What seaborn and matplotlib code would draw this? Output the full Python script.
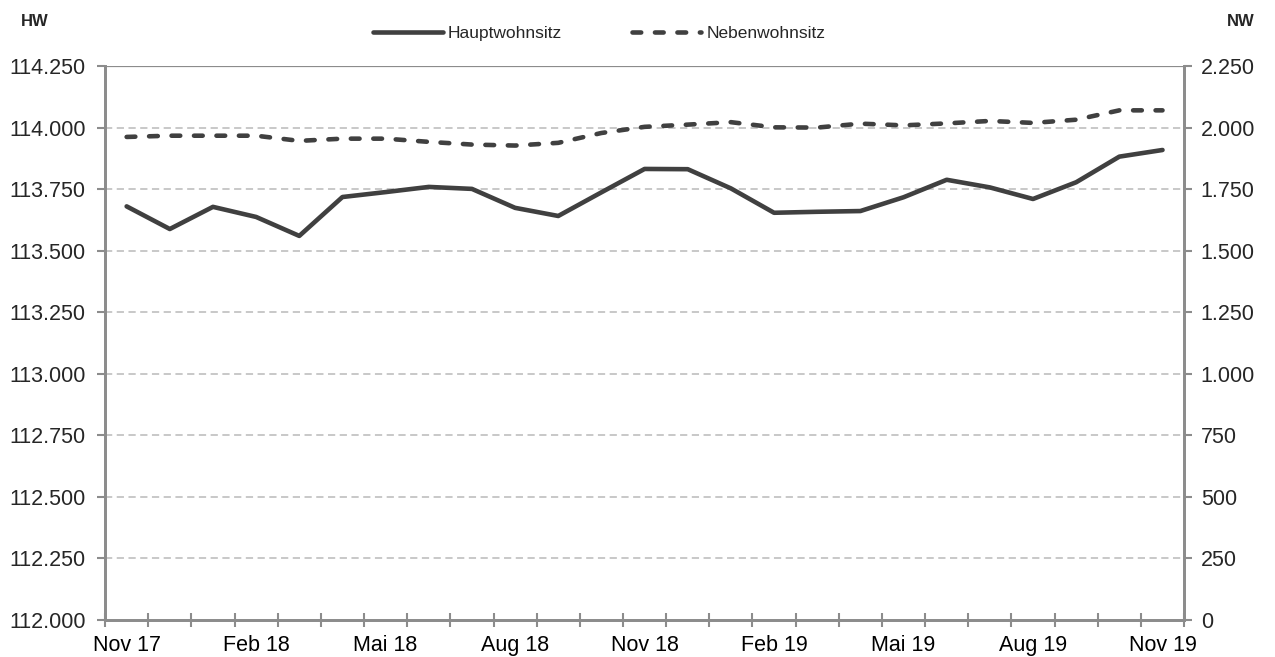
import matplotlib
matplotlib.use("Agg")
import matplotlib.pyplot as plt
import seaborn as sns
import pandas as pd

# monthly values Nov 17 - Nov 19
months = ["Nov 17", "Dez 17", "Jan 18", "Feb 18", "Mrz 18", "Apr 18", "Mai 18",
          "Jun 18", "Jul 18", "Aug 18", "Sep 18", "Okt 18", "Nov 18", "Dez 18",
          "Jan 19", "Feb 19", "Mrz 19", "Apr 19", "Mai 19", "Jun 19", "Jul 19",
          "Aug 19", "Sep 19", "Okt 19", "Nov 19"]
hauptwohnsitz = [113.680, 113.588, 113.678, 113.637, 113.560, 113.718, 113.738,
                 113.759, 113.751, 113.674, 113.641, 113.737, 113.832, 113.831,
                 113.753, 113.654, 113.658, 113.661, 113.717, 113.788, 113.757,
                 113.710, 113.778, 113.882, 113.909]
nebenwohnsitz = [1962, 1967, 1967, 1967, 1946, 1955, 1955, 1942, 1931, 1927,
                 1938, 1978, 2003, 2012, 2022, 2001, 2000, 2016, 2009, 2017,
                 2027, 2019, 2032, 2070, 2070]
hw_ticks = [112.0, 112.25, 112.5, 112.75, 113.0, 113.25, 113.5, 113.75, 114.0, 114.25]
nw_ticks = [0, 250, 500, 750, 1000, 1250, 1500, 1750, 2000, 2250]

df = pd.DataFrame({"idx": range(len(months)), "monat": months,
                   "hw": hauptwohnsitz, "nw": nebenwohnsitz})

sns.set_theme(style="white")
plt.rcParams["font.family"] = ["Liberation Sans", "DejaVu Sans"]

line_col = "#404040"
axis_col = "#8c8c8c"
grid_col = "#c4c4c4"

fig = plt.figure(figsize=(12.75, 6.57), dpi=100)
ax = fig.add_axes([0.0824, 0.0563, 0.8463, 0.8432])
ax2 = ax.twinx()

sns.lineplot(data=df, x="idx", y="hw", ax=ax, color=line_col, linewidth=3.3,
             label="Hauptwohnsitz", legend=False)
sns.lineplot(data=df, x="idx", y="nw", ax=ax2, color=line_col, linewidth=3.3,
             label="Nebenwohnsitz", legend=False)
ax2.lines[0].set_dashes([1.9, 3.0])
ax2.lines[0].set_dash_capstyle("round")
ax.lines[0].set_solid_capstyle("round")

ax.set_xlim(-0.5, len(months) - 0.5)
ax.set_ylim(hw_ticks[0], hw_ticks[-1])
ax2.set_ylim(nw_ticks[0], nw_ticks[-1])

# gridlines (dashed), top one solid
for t in hw_ticks[1:-1]:
    ax.axhline(t, color=grid_col, linestyle=(0, (4, 2.5)), linewidth=1.3, zorder=0)
ax.axhline(hw_ticks[-1], color=axis_col, linewidth=1.6, zorder=0)

ax.set_yticks(hw_ticks)
ax.set_yticklabels([f"{v:.3f}" for v in hw_ticks])
ax2.set_yticks(nw_ticks)
ax2.set_yticklabels([f"{v:,}".replace(",", ".") for v in nw_ticks])

# category boundaries as ticks, labels every third month
ax.set_xticks([i - 0.5 for i in range(len(months) + 1)])
ax.set_xticklabels([])
ax.set_xticks(list(range(0, len(months), 3)), minor=True)
ax.set_xticklabels([months[i] for i in range(0, len(months), 3)], minor=True)
ax.tick_params(axis="x", which="major", direction="inout", length=10, width=1.5,
               color=axis_col, bottom=True)
ax.tick_params(axis="x", which="minor", length=0, labelsize=15.5, pad=11, colors="black")
ax.tick_params(axis="y", direction="out", length=6, width=1.5, color=axis_col,
               labelsize=15.5, pad=8, left=True)
ax2.tick_params(axis="y", direction="out", length=6, width=1.5, color=axis_col,
                labelsize=15.5, pad=6, right=True)

for a in (ax, ax2):
    a.set_xlabel("")
    a.set_ylabel("")
    a.spines["top"].set_visible(False)
    for s in ("left", "right", "bottom"):
        a.spines[s].set_color(axis_col)
        a.spines[s].set_linewidth(2)

fig.text(0.016, 0.968, "HW", fontsize=12, fontweight="bold", va="center")
fig.text(0.962, 0.968, "NW", fontsize=12, fontweight="bold", va="center")

handles = ax.lines[:1] + ax2.lines[:1]
fig.legend(handles, ["Hauptwohnsitz", "Nebenwohnsitz"], loc="center",
           bbox_to_anchor=(0.47, 0.949), ncol=2, frameon=False, fontsize=12.5,
           handlelength=4.0, handletextpad=0.3, columnspacing=4.0)

fig.savefig("out.png", dpi=100)
